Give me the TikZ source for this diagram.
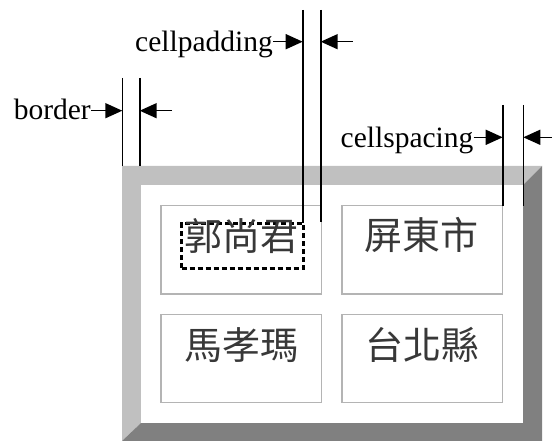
\documentclass[tikz,border=0pt]{standalone}
\usepackage{fontspec}
\setmainfont{Liberation Serif}
\newfontfamily\cjk{Noto Sans CJK TC}
\usetikzlibrary{arrows.meta}
\definecolor{bevellight}{HTML}{C0C0C0}
\definecolor{beveldark}{HTML}{808080}
\definecolor{cellline}{HTML}{B4B4B4}
\begin{document}
\begin{tikzpicture}[x=1pt,y=-1pt,
  lbl/.style={inner sep=0pt,anchor=base east,font=\fontsize{29.5}{30}\selectfont},
  dimline/.style={line width=1.6pt,black},
  arr/.style={line width=1.5pt,-{Triangle[length=17pt,width=15pt]}},
  cellbox/.style={draw=cellline,line width=1.5pt},
  cjktext/.style={inner sep=0pt,text=black!78,font=\cjk\fontsize{38}{38}\selectfont,text height=0.83em,text depth=0.07em},
  padbox/.style={draw=black,line width=2.6pt,dash pattern=on 5pt off 3pt,inner sep=0pt}]
\useasboundingbox (0,0) rectangle (552,441);
% table bevel
\fill[bevellight] (122,166) -- (542,166) -- (523,185) -- (141,185) -- (141,423) -- (122,441) -- cycle;
\fill[beveldark] (542,166) -- (542,441) -- (122,441) -- (141,423) -- (523,423) -- (523,185) -- cycle;
\fill[white] (141,185) rectangle (523,423);
% cells
\draw[cellbox] (161,205.7) rectangle (321.7,294);
\draw[cellbox] (342,205.7) rectangle (502.3,294);
\draw[cellbox] (161,314.3) rectangle (321.7,402.7);
\draw[cellbox] (342,314.3) rectangle (502.3,402.7);
% texts
\node[padbox,minimum width=121.6pt,minimum height=45pt] (pad) at (242.5,245.8) {};
\node[cjktext] (t1) at (241,246.5) {郭尚君};
\node[cjktext] (t2) at (421.8,246) {屏東市};
\node[cjktext] (t3) at (241,355.2) {馬孝瑪};
\node[cjktext] (t4) at (422.3,355.2) {台北縣};
% dimension lines
\coordinate (bA) at (122.3,78); \coordinate (bB) at (122.3,166);
\coordinate (bC) at (139.7,78); \coordinate (bD) at (139.7,166);
\coordinate (pA) at (302.7,10); \coordinate (pB) at (302.7,223);
\coordinate (pC) at (320.7,10); \coordinate (pD) at (320.7,222);
\coordinate (sA) at (502.7,105); \coordinate (sB) at (502.7,205.7);
\coordinate (sC) at (523.3,105); \coordinate (sD) at (523.3,205.7);
\draw[dimline] (bA) -- (bB) (bC) -- (bD);
\draw[dimline] (pA) -- (pB) (pC) -- (pD);
\draw[dimline] (sA) -- (sB) (sC) -- (sD);
% labels
\node[lbl] (lb) at (91,120) {border};
\node[lbl] (lp) at (273,51.5) {cellpadding};
\node[lbl] (ls) at (473.6,147.5) {cellspacing};
\coordinate (bL) at (122.3,110.7); \coordinate (bR) at (139.7,110.7); \coordinate (bE) at (172,110.7);
\coordinate (pL) at (302.7,41.7); \coordinate (pR) at (320.7,41.7); \coordinate (pE) at (352.7,41.7);
\coordinate (sL) at (502.7,137.3); \coordinate (sR) at (523.3,137.3); \coordinate (sE) at (553,137.3);
\draw[arr] (lb.east |- bL) -- (bL);
\draw[arr] (bE) -- (bR);
\draw[arr] (lp.east |- pL) -- (pL);
\draw[arr] (pE) -- (pR);
\draw[arr] (ls.east |- sL) -- (sL);
\draw[arr] (sE) -- (sR);
\end{tikzpicture}
\end{document}
